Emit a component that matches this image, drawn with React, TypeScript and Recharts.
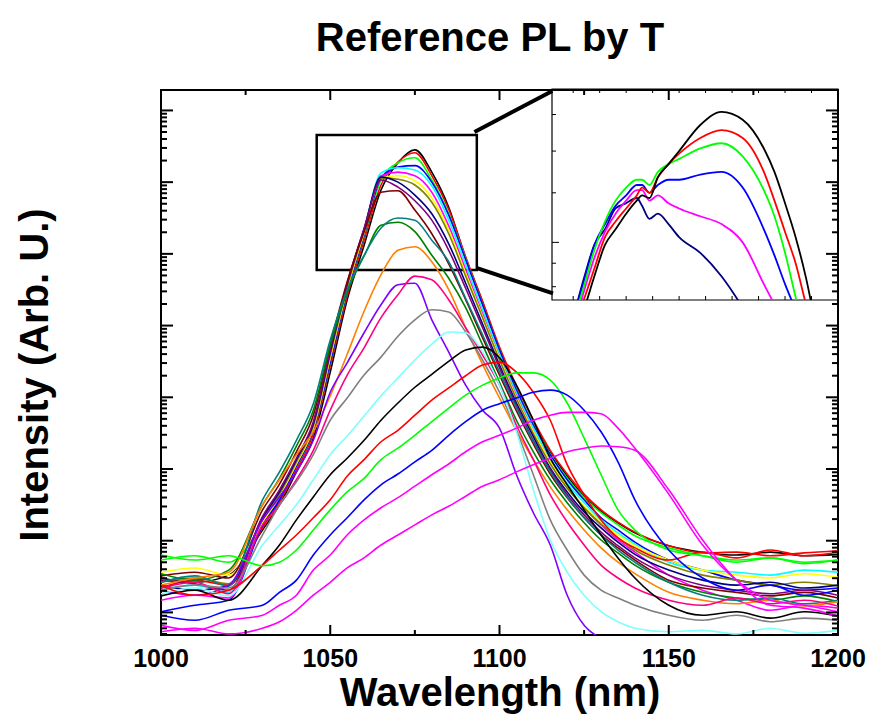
import React from 'react';
import { LineChart, Line, XAxis, YAxis, ReferenceArea, ReferenceLine } from 'recharts';

// wavelength grid (nm) shared by the main spectra
const wl = [1000, 1010, 1020, 1030, 1035, 1040, 1045, 1050, 1055, 1060, 1065, 1070, 1075, 1080, 1085, 1090,
  1095, 1100, 1105, 1110, 1115, 1120, 1125, 1130, 1135, 1140, 1150, 1160, 1170, 1180, 1190, 1200];

// log10 intensity (decades), one array per temperature
const black1 = [0.48, 0.42, 0.52, 1.15, 1.50, 1.96, 2.43, 3.35, 4.36, 5.12, 5.89, 6.27, 6.45, 6.14, 5.65, 4.94, 4.33, 3.66, 3.10, 2.63, 2.24, 1.90, 1.62, 1.41, 1.25, 1.11, 0.93, 0.84, 0.80, 0.84, 0.79, 0.81];
const red1 = [0.34, 0.45, 0.38, 1.18, 1.54, 1.99, 2.49, 3.44, 4.41, 5.19, 5.96, 6.28, 6.41, 6.09, 5.62, 4.96, 4.34, 3.70, 3.16, 2.68, 2.26, 1.93, 1.65, 1.43, 1.26, 1.12, 0.93, 0.83, 0.84, 0.79, 0.83, 0.86];
const green1 = [0.73, 0.79, 0.70, 1.23, 1.60, 2.04, 2.54, 3.49, 4.47, 5.25, 6.03, 6.27, 6.34, 6.03, 5.56, 4.93, 4.29, 3.66, 3.10, 2.63, 2.21, 1.87, 1.60, 1.39, 1.22, 1.07, 0.90, 0.79, 0.73, 0.76, 0.70, 0.73];
const blue1 = [0.01, 0.10, 0.17, 1.21, 1.57, 2.04, 2.54, 3.49, 4.47, 5.26, 6.06, 6.21, 6.23, 6.00, 5.54, 4.92, 4.29, 3.66, 3.10, 2.61, 2.20, 1.85, 1.57, 1.32, 1.15, 0.98, 0.73, 0.59, 0.45, 0.38, 0.31, 0.34];
const cyan1 = [0.31, 0.38, 0.28, 1.29, 1.65, 2.10, 2.60, 3.58, 4.54, 5.33, 6.13, 6.20, 6.17, 5.95, 5.47, 4.85, 4.22, 3.60, 3.06, 2.57, 2.15, 1.80, 1.53, 1.29, 1.11, 0.95, 0.70, 0.59, 0.56, 0.52, 0.59, 0.56];
const magenta1 = [0.17, 0.24, 0.20, 1.26, 1.62, 2.07, 2.57, 3.55, 4.51, 5.31, 6.09, 6.14, 6.09, 5.86, 5.39, 4.78, 4.16, 3.56, 3.02, 2.52, 2.10, 1.75, 1.46, 1.22, 1.01, 0.84, 0.52, 0.31, 0.17, 0.03, 0.10, 0.06];
const yellow1 = [0.56, 0.62, 0.52, 1.26, 1.62, 2.07, 2.57, 3.55, 4.51, 5.29, 6.06, 6.09, 6.02, 5.78, 5.33, 4.73, 4.13, 3.55, 3.00, 2.52, 2.10, 1.76, 1.48, 1.26, 1.08, 0.93, 0.73, 0.59, 0.52, 0.48, 0.54, 0.49];
const olive1 = [0.42, 0.48, 0.40, 1.29, 1.65, 2.10, 2.60, 3.59, 4.54, 5.32, 6.06, 6.04, 5.96, 5.72, 5.28, 4.69, 4.11, 3.52, 2.98, 2.49, 2.07, 1.73, 1.46, 1.23, 1.04, 0.87, 0.66, 0.52, 0.45, 0.38, 0.42, 0.37];
const navy1 = [0.38, 0.31, 0.37, 1.32, 1.68, 2.13, 2.63, 3.63, 4.58, 5.35, 6.07, 6.00, 5.82, 5.56, 5.14, 4.59, 4.02, 3.45, 2.92, 2.45, 2.01, 1.68, 1.40, 1.18, 0.98, 0.81, 0.59, 0.45, 0.38, 0.42, 0.34, 0.38];
const purple1 = [0.45, 0.40, 0.31, 1.34, 1.71, 2.15, 2.66, 3.66, 4.59, 5.35, 6.03, 5.93, 5.74, 5.47, 5.05, 4.52, 3.97, 3.41, 2.88, 2.40, 1.99, 1.64, 1.36, 1.12, 0.93, 0.76, 0.52, 0.38, 0.31, 0.26, 0.31, 0.24];
const wine1 = [0.51, 0.56, 0.48, 1.43, 1.79, 2.24, 2.75, 3.73, 4.61, 5.31, 5.86, 5.88, 5.61, 5.28, 4.86, 4.36, 3.83, 3.31, 2.81, 2.35, 1.93, 1.60, 1.32, 1.08, 0.90, 0.73, 0.45, 0.34, 0.28, 0.23, 0.28, 0.20];
const dkgreen1 = [0.54, 0.45, 0.59, 1.50, 1.87, 2.32, 2.82, 3.73, 4.47, 4.97, 5.40, 5.44, 5.31, 4.98, 4.66, 4.25, 3.73, 3.21, 2.68, 2.24, 1.85, 1.53, 1.25, 1.01, 0.83, 0.66, 0.42, 0.28, 0.20, 0.17, 0.23, 0.15];
const teal1 = [0.42, 0.51, 0.37, 1.57, 1.96, 2.40, 2.91, 3.80, 4.50, 4.98, 5.36, 5.50, 5.47, 5.19, 4.89, 4.38, 3.87, 3.35, 2.85, 2.38, 1.96, 1.61, 1.32, 1.08, 0.87, 0.70, 0.42, 0.24, 0.17, 0.20, 0.12, 0.17];
const orange1 = [0.38, 0.48, 0.56, 1.50, 1.85, 2.20, 2.52, 3.02, 3.60, 4.20, 4.71, 5.05, 5.10, 4.89, 4.50, 3.97, 3.46, 2.99, 2.54, 2.13, 1.75, 1.43, 1.15, 0.90, 0.70, 0.54, 0.28, 0.17, 0.12, 0.17, 0.09, 0.15];
const violet1 = [0.31, 0.24, 0.38, 1.29, 1.61, 1.96, 2.40, 3.07, 3.48, 3.90, 4.29, 4.57, 4.59, 4.08, 3.63, 3.17, 2.82, 2.57, 1.92, 1.39, 0.94, 0.24, -0.18, -0.36, null, null, null, null, null, null, null, null];
const pink1 = [0.34, 0.42, 0.26, 1.22, 1.50, 1.85, 2.26, 2.82, 3.31, 3.69, 4.11, 4.43, 4.69, 4.64, 4.36, 3.97, 3.59, 3.17, 2.61, 2.13, 1.64, 1.26, 0.94, 0.66, 0.48, 0.34, 0.17, 0.10, 0.20, 0.12, 0.17, 0.09];
const gray1 = [0.31, 0.38, 0.34, 1.08, 1.50, 1.82, 2.20, 2.68, 2.99, 3.31, 3.56, 3.85, 4.08, 4.22, 4.19, 3.91, 3.52, 3.07, 2.54, 1.92, 1.29, 0.87, 0.52, 0.31, 0.20, 0.10, -0.04, -0.11, -0.04, -0.13, -0.08, -0.11];
const ltcyan1 = [0.26, 0.34, 0.23, 0.94, 1.22, 1.50, 1.85, 2.20, 2.46, 2.74, 3.02, 3.27, 3.52, 3.74, 3.91, 3.90, 3.63, 3.17, 2.52, 1.71, 1.01, 0.56, 0.24, 0.01, -0.13, -0.22, -0.27, -0.25, -0.30, -0.22, -0.29, -0.25];
const black2 = [0.23, 0.31, 0.17, 0.66, 0.94, 1.29, 1.61, 1.92, 2.15, 2.40, 2.68, 2.92, 3.14, 3.32, 3.50, 3.66, 3.70, 3.55, 3.17, 2.68, 2.15, 1.78, 1.43, 1.08, 0.76, 0.48, 0.10, -0.04, 0.01, -0.08, 0.01, -0.05];
const red2 = [0.38, 0.24, 0.31, 0.66, 0.87, 1.08, 1.32, 1.57, 1.90, 2.13, 2.38, 2.54, 2.75, 2.96, 3.13, 3.30, 3.45, 3.49, 3.35, 3.07, 2.68, 2.06, 1.64, 1.29, 1.04, 0.90, 0.73, 0.84, 0.76, 0.87, 0.79, 0.84];
const green2 = [0.80, 0.73, 0.79, 0.65, 0.70, 0.87, 1.15, 1.43, 1.68, 1.87, 2.13, 2.29, 2.47, 2.66, 2.85, 3.03, 3.17, 3.27, 3.34, 3.34, 3.24, 2.92, 2.43, 1.92, 1.43, 1.15, 0.87, 0.79, 0.70, 0.76, 0.68, 0.73];
const blue2 = [-0.04, -0.11, 0.03, 0.10, 0.28, 0.45, 0.80, 1.08, 1.32, 1.57, 1.78, 1.93, 2.10, 2.26, 2.47, 2.66, 2.82, 2.91, 2.99, 3.07, 3.10, 3.03, 2.82, 2.52, 2.10, 1.57, 0.87, 0.48, 0.31, 0.38, 0.24, 0.31];
const magenta2 = [-0.18, -0.25, -0.11, -0.04, 0.10, 0.24, 0.59, 0.80, 1.08, 1.29, 1.46, 1.60, 1.76, 1.92, 2.07, 2.24, 2.38, 2.47, 2.57, 2.68, 2.75, 2.79, 2.79, 2.77, 2.57, 2.29, 1.65, 0.94, 0.45, 0.17, 0.10, 0.01];
const magenta3 = [-0.27, -0.22, -0.30, -0.22, -0.13, 0.03, 0.24, 0.42, 0.62, 0.76, 0.94, 1.08, 1.22, 1.36, 1.48, 1.62, 1.76, 1.85, 1.96, 2.06, 2.15, 2.24, 2.29, 2.32, 2.31, 2.26, 1.71, 1.01, 0.45, 0.10, 0.06, -0.05];

const series = [
  { key: 's1', color: '#000000', values: black1 },
  { key: 's2', color: '#FF0000', values: red1 },
  { key: 's3', color: '#00FF00', values: green1 },
  { key: 's4', color: '#0000FF', values: blue1 },
  { key: 's5', color: '#00FFFF', values: cyan1 },
  { key: 's6', color: '#FF00FF', values: magenta1 },
  { key: 's7', color: '#FFFF00', values: yellow1 },
  { key: 's8', color: '#808000', values: olive1 },
  { key: 's9', color: '#000080', values: navy1 },
  { key: 's10', color: '#800080', values: purple1 },
  { key: 's11', color: '#800000', values: wine1 },
  { key: 's12', color: '#008000', values: dkgreen1 },
  { key: 's13', color: '#008080', values: teal1 },
  { key: 's14', color: '#FF8000', values: orange1 },
  { key: 's15', color: '#8000FF', values: violet1 },
  { key: 's16', color: '#FF0080', values: pink1 },
  { key: 's17', color: '#808080', values: gray1 },
  { key: 's18', color: '#80FFFF', values: ltcyan1 },
  { key: 's19', color: '#000000', values: black2 },
  { key: 's20', color: '#FF0000', values: red2 },
  { key: 's21', color: '#00FF00', values: green2 },
  { key: 's22', color: '#0000FF', values: blue2 },
  { key: 's23', color: '#FF00FF', values: magenta2 },
  { key: 's24', color: '#FF00FF', values: magenta3 },
];

// inset: zoom on the peak region
const insetWl = [1059, 1060, 1061, 1062, 1063, 1064, 1065, 1066, 1066.5, 1067.2, 1068, 1069, 1070, 1072, 1074,
  1076, 1078, 1079, 1080, 1081, 1082, 1083, 1084];
const inBlack = [5.46, 5.59, 5.70, 5.83, 5.95, 6.01, 6.07, 6.12, 6.14, 6.13, 6.21, 6.26, 6.31, 6.41, 6.46, 6.43, 6.32, 6.23, 6.11, 5.98, 5.82, 5.62, 5.43];
const inRed = [5.51, 5.63, 5.74, 5.86, 5.98, 6.04, 6.09, 6.14, 6.17, 6.15, 6.21, 6.26, 6.30, 6.36, 6.39, 6.36, 6.23, 6.12, 6.00, 5.88, 5.72, 5.59, 5.44];
const inGreen = [5.50, 5.65, 5.79, 5.93, 6.04, 6.12, 6.17, 6.20, 6.20, 6.18, 6.23, 6.26, 6.28, 6.32, 6.34, 6.29, 6.16, 6.06, 5.92, 5.75, 5.59, 5.41, 5.26];
const inBlue = [5.53, 5.67, 5.81, 5.95, 6.03, 6.10, 6.14, 6.18, 6.18, 6.15, 6.18, 6.20, 6.20, 6.22, 6.23, 6.17, 6.01, 5.91, 5.80, 5.70, 5.59, 5.46, 5.34];
const inMagenta = [5.50, 5.63, 5.77, 5.90, 6.00, 6.07, 6.12, 6.16, 6.16, 6.12, 6.14, 6.11, 6.09, 6.06, 6.03, 5.96, 5.80, 5.72, 5.62, 5.53, 5.43, 5.34, 5.24];
const inNavy = [5.52, 5.67, 5.82, 5.95, 6.01, 6.09, 6.11, 6.13, 6.10, 6.05, 6.07, 6.03, 5.98, 5.92, 5.83, 5.71, 5.57, 5.49, 5.41, 5.34, 5.26, 5.18, 5.11];

const insetSeries = [
  { key: 'i6', color: '#000080', values: inNavy },
  { key: 'i5', color: '#FF00FF', values: inMagenta },
  { key: 'i4', color: '#0000FF', values: inBlue },
  { key: 'i3', color: '#00FF00', values: inGreen },
  { key: 'i2', color: '#FF0000', values: inRed },
  { key: 'i1', color: '#000000', values: inBlack },
];

const xTicks = [1000, 1025, 1050, 1075, 1100, 1125, 1150, 1175, 1200];
const insetXTicks = [1060, 1062.5, 1065, 1067.5, 1070, 1072.5, 1075, 1077.5, 1080, 1082.5];
const insetYTicks = [5.79, 5.88, 5.96, 6.15, 6.31, 6.45];

const Y_MIN = -0.315;
const Y_MAX = 7.285;
const IN_Y_MIN = 5.739;
const IN_Y_MAX = 6.548;

// log-axis tick positions (decades + minor 2..9)
const yTicks: number[] = [];
for (let d = -1; d <= 7; d++) {
  for (let k = 1; k <= 9; k++) {
    const v = d + Math.log10(k);
    if (v >= Y_MIN && v <= Y_MAX) yTicks.push(v);
  }
}

const FONT = '"Liberation Sans", Arial, Helvetica, sans-serif';
const PL = 161, PR = 838, PT = 90, PB = 635;
// inset chart sits at (500, 60); its plot box in local coordinates
const INSET_X = 500, INSET_Y = 60;
const IL = 552 - INSET_X, IR = 838 - INSET_X, IT = 89 - INSET_Y, IB = 300 - INSET_Y;

const mainRows = wl.map((w, i) => {
  const r: any = { w };
  series.forEach(s => { r[s.key] = s.values[i]; });
  return r;
});

const insetRows = insetWl.map((w, i) => {
  const r: any = { w };
  insetSeries.forEach(s => { r[s.key] = s.values[i]; });
  return r;
});

const MainXTick = (props: any) => {
  const { x, payload } = props;
  const v = payload.value;
  const major = v % 50 === 0;
  const len = major ? 10 : 5;
  return (
    <g>
      <line x1={x} x2={x} y1={PB} y2={PB - len} stroke="#000" strokeWidth={2} />
      <line x1={x} x2={x} y1={PT} y2={PT + len} stroke="#000" strokeWidth={2} />
      {major && (
        <text x={x} y={PB + 32} textAnchor="middle" fontFamily={FONT} fontWeight="bold" fontSize={25} fill="#000">
          {v}
        </text>
      )}
    </g>
  );
};

const MainYTick = (props: any) => {
  const { y, payload } = props;
  const v = payload.value;
  const major = Math.abs(v - Math.round(v)) < 1e-6;
  const len = major ? 12 : 6;
  return (
    <g>
      <line x1={PL} x2={PL + len} y1={y} y2={y} stroke="#000" strokeWidth={2} />
      <line x1={PR} x2={PR - len} y1={y} y2={y} stroke="#000" strokeWidth={2} />
    </g>
  );
};

const InsetXTick = (props: any) => {
  const { x } = props;
  return (
    <g>
      <line x1={x} x2={x} y1={IB} y2={IB - 4} stroke="#000" strokeWidth={1} />
      <line x1={x} x2={x} y1={IT} y2={IT + 4} stroke="#000" strokeWidth={1} />
    </g>
  );
};

const InsetYTick = (props: any) => {
  const { y, payload } = props;
  const len = payload.value === 5.96 ? 7 : 4;
  return <line x1={IL} x2={IL + len} y1={y} y2={y} stroke="#000" strokeWidth={1} />;
};

export default function App() {
  return (
    <div style={{ position: 'absolute', left: 0, top: 0, width: 869, height: 719, background: '#fff' }}>
      <div style={{ position: 'absolute', left: 0, top: 0 }}>
        <LineChart width={869} height={719} data={mainRows} margin={{ top: PT, right: 869 - PR, bottom: 719 - PB - 30, left: PL - 60 }}>
          <XAxis dataKey="w" type="number" domain={[1000, 1200]} ticks={xTicks} interval={0} height={30}
            axisLine={false} tickLine={false} tick={MainXTick} allowDataOverflow />
          <YAxis type="number" domain={[Y_MIN, Y_MAX]} ticks={yTicks} interval={0} width={60}
            axisLine={false} tickLine={false} tick={MainYTick} allowDataOverflow />
          {series.map(s => (
            <Line key={s.key} dataKey={s.key} stroke={s.color} strokeWidth={1.6} dot={false} type="monotone"
              isAnimationActive={false} connectNulls={false} />
          ))}
          <ReferenceArea x1={1046.0} x2={1093.3} y1={4.775} y2={6.658} fill="none" fillOpacity={0}
            stroke="#000" strokeWidth={2.5} ifOverflow="visible" />
          <ReferenceLine segment={[{ x: 1092.6, y: 6.70 }, { x: 1115.6, y: 7.27 }]} stroke="#000" strokeWidth={4} ifOverflow="visible" />
          <ReferenceLine segment={[{ x: 1093.4, y: 4.80 }, { x: 1115.8, y: 4.45 }]} stroke="#000" strokeWidth={4} ifOverflow="visible" />
          <ReferenceArea x1={1000} x2={1200} y1={Y_MIN} y2={Y_MAX} fill="none" fillOpacity={0}
            stroke="#000" strokeWidth={2} ifOverflow="visible" />
        </LineChart>
      </div>
      <div style={{ position: 'absolute', left: INSET_X, top: INSET_Y }}>
        <LineChart width={360} height={280} data={insetRows}
          margin={{ top: IT, right: 360 - IR, bottom: 280 - IB - 20, left: IL - 30 }}>
          <XAxis dataKey="w" type="number" domain={[1058, 1085]} ticks={insetXTicks} interval={0} height={20}
            axisLine={false} tickLine={false} tick={InsetXTick} allowDataOverflow />
          <YAxis type="number" domain={[IN_Y_MIN, IN_Y_MAX]} ticks={insetYTicks} interval={0} width={30}
            axisLine={false} tickLine={false} tick={InsetYTick} allowDataOverflow />
          {insetSeries.map(s => (
            <Line key={s.key} dataKey={s.key} stroke={s.color} strokeWidth={1.8} dot={false} type="monotone"
              isAnimationActive={false} />
          ))}
          <ReferenceArea x1={1058} x2={1085} y1={IN_Y_MIN} y2={IN_Y_MAX} fill="none" fillOpacity={0}
            stroke="#000" strokeWidth={1.2} ifOverflow="visible" />
        </LineChart>
      </div>
      <svg width={869} height={719} style={{ position: 'absolute', left: 0, top: 0, pointerEvents: 'none' }}>
        <text x={490} y={51} textAnchor="middle" fontFamily={FONT} fontWeight="bold" fontSize={40} fill="#000">
          Reference PL by T
        </text>
        <text x={500} y={706} textAnchor="middle" fontFamily={FONT} fontWeight="bold" fontSize={40} fill="#000">
          Wavelength (nm)
        </text>
        <text x={0} y={0} transform="translate(48,375) rotate(-90)" textAnchor="middle" fontFamily={FONT}
          fontWeight="bold" fontSize={40} fill="#000">
          Intensity (Arb. U.)
        </text>
      </svg>
    </div>
  );
}
